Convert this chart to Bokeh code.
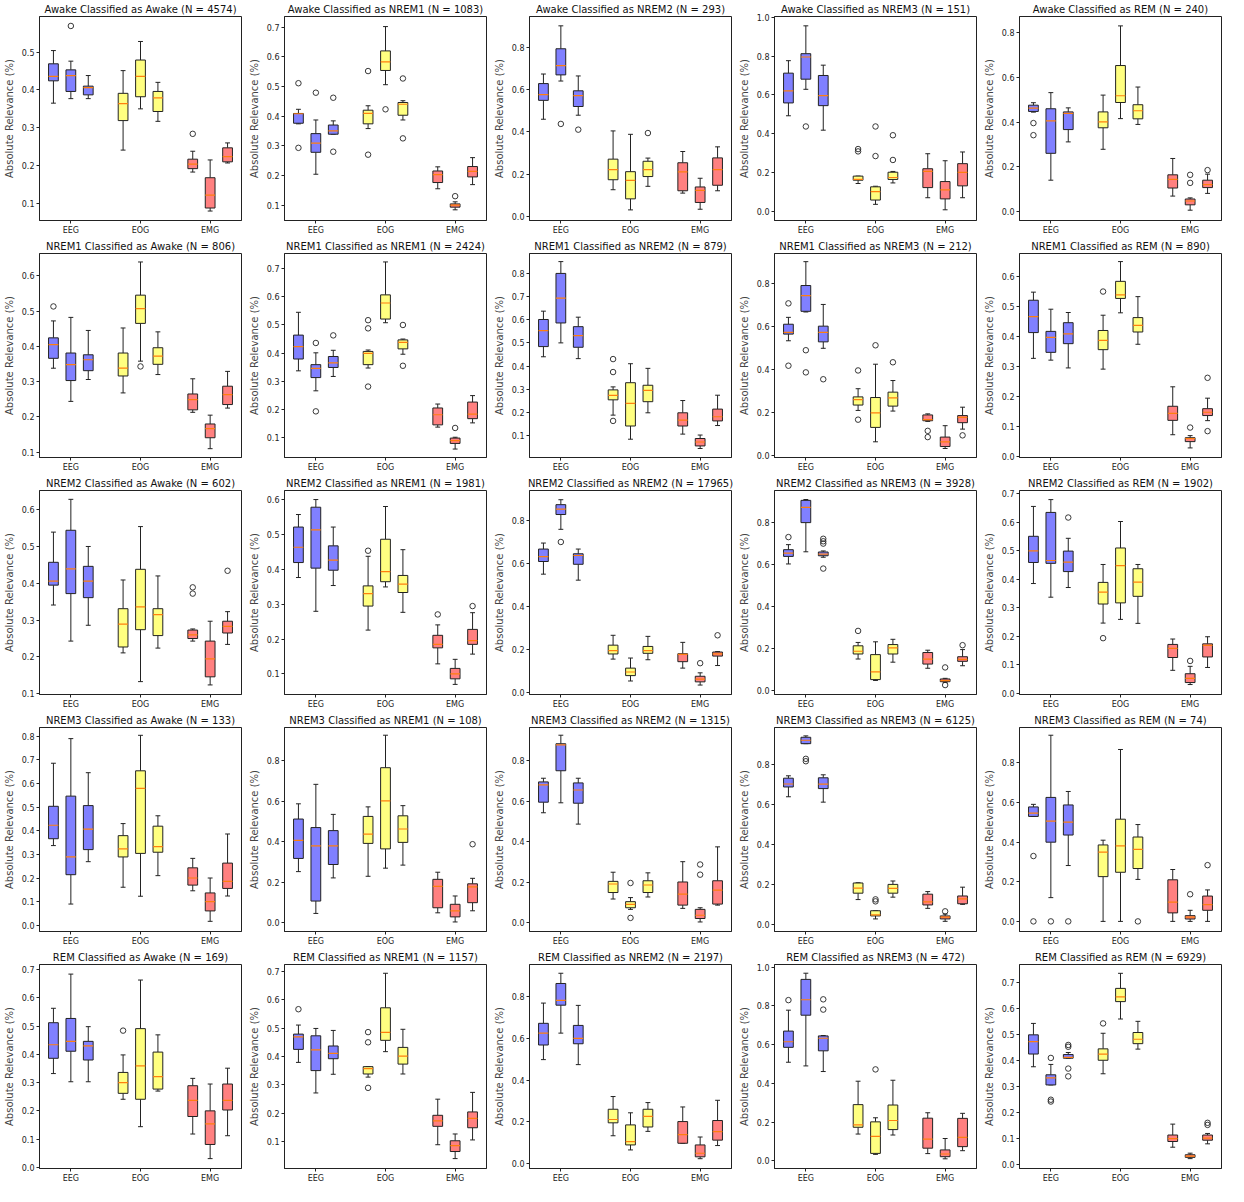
from bokeh.plotting import figure
from bokeh.layouts import gridplot
from bokeh.models import FixedTicker, NumeralTickFormatter, ColumnDataSource
from bokeh.embed import file_html
from bokeh.resources import INLINE

STAGES = ["Awake", "NREM1", "NREM2", "NREM3", "REM"]
CHANNELS = ["EEG", "EOG", "EMG"]
N_COUNTS = [
    [4574, 1083, 293, 151, 240],
    [806, 2424, 879, 212, 890],
    [602, 1981, 17965, 3928, 1902],
    [133, 108, 1315, 6125, 74],
    [169, 1157, 2197, 472, 6929],
]

# per panel (row-major, true stage x predicted stage), 9 boxes: EEG x3, EOG x3, EMG x3
LO = [
    [0.365, 0.377, 0.377, 0.241, 0.350, 0.317, 0.183, 0.080, 0.207],
    [0.374, 0.204, 0.339, 0.358, 0.506, 0.387, 0.155, 0.084, 0.169],
    [0.460, 0.640, 0.479, 0.128, 0.033, 0.144, 0.112, 0.036, 0.123],
    [0.493, 0.629, 0.419, 0.145, 0.038, 0.148, 0.072, 0.010, 0.072],
    [0.445, 0.141, 0.312, 0.279, 0.416, 0.390, 0.070, 0.007, 0.082],
    [0.338, 0.244, 0.306, 0.268, 0.358, 0.320, 0.213, 0.110, 0.225],
    [0.337, 0.266, 0.317, 0.347, 0.508, 0.396, 0.137, 0.059, 0.152],
    [0.440, 0.500, 0.432, 0.188, 0.084, 0.198, 0.106, 0.044, 0.143],
    [0.533, 0.667, 0.498, 0.209, 0.063, 0.206, 0.158, 0.032, 0.122],
    [0.328, 0.322, 0.296, 0.292, 0.480, 0.375, 0.073, 0.029, 0.120],
    [0.341, 0.243, 0.286, 0.211, 0.133, 0.224, 0.243, 0.124, 0.234],
    [0.377, 0.280, 0.354, 0.226, 0.350, 0.277, 0.129, 0.070, 0.157],
    [0.552, 0.761, 0.524, 0.156, 0.054, 0.153, 0.114, 0.035, 0.126],
    [0.603, 0.661, 0.635, 0.150, 0.048, 0.135, 0.106, 0.039, 0.118],
    [0.385, 0.337, 0.371, 0.246, 0.259, 0.245, 0.080, 0.030, 0.090],
    [0.337, 0.090, 0.269, 0.161, 0.123, 0.210, 0.146, 0.017, 0.124],
    [0.253, 0.047, 0.222, 0.230, 0.270, 0.285, 0.050, 0.005, 0.060],
    [0.543, 0.592, 0.487, 0.118, 0.067, 0.128, 0.072, 0.005, 0.088],
    [0.639, 0.905, 0.612, 0.124, 0.027, 0.136, 0.080, 0.015, 0.100],
    [0.530, 0.120, 0.282, 0.000, 0.000, 0.212, 0.000, 0.000, 0.000],
    [0.332, 0.303, 0.303, 0.241, 0.144, 0.270, 0.118, 0.031, 0.112],
    [0.379, 0.271, 0.337, 0.327, 0.417, 0.338, 0.088, 0.039, 0.105],
    [0.498, 0.625, 0.474, 0.133, 0.065, 0.154, 0.097, 0.023, 0.086],
    [0.509, 0.490, 0.461, 0.138, 0.033, 0.133, 0.037, 0.010, 0.052],
    [0.375, 0.305, 0.408, 0.348, 0.559, 0.443, 0.065, 0.021, 0.078],
]
Q1 = [
    [0.424, 0.396, 0.387, 0.319, 0.382, 0.343, 0.192, 0.088, 0.210],
    [0.376, 0.278, 0.339, 0.374, 0.554, 0.403, 0.176, 0.093, 0.195],
    [0.549, 0.669, 0.520, 0.175, 0.085, 0.190, 0.123, 0.068, 0.149],
    [0.559, 0.681, 0.545, 0.162, 0.060, 0.166, 0.124, 0.066, 0.133],
    [0.448, 0.261, 0.367, 0.375, 0.488, 0.415, 0.106, 0.031, 0.108],
    [0.366, 0.303, 0.331, 0.316, 0.465, 0.349, 0.220, 0.141, 0.235],
    [0.379, 0.313, 0.349, 0.359, 0.521, 0.415, 0.145, 0.079, 0.167],
    [0.484, 0.586, 0.481, 0.254, 0.141, 0.246, 0.141, 0.055, 0.163],
    [0.564, 0.670, 0.528, 0.234, 0.130, 0.229, 0.161, 0.041, 0.152],
    [0.414, 0.348, 0.377, 0.357, 0.528, 0.416, 0.121, 0.050, 0.137],
    [0.395, 0.372, 0.361, 0.227, 0.274, 0.258, 0.250, 0.146, 0.265],
    [0.420, 0.404, 0.398, 0.295, 0.365, 0.334, 0.175, 0.086, 0.185],
    [0.611, 0.830, 0.598, 0.180, 0.079, 0.183, 0.144, 0.050, 0.170],
    [0.639, 0.800, 0.642, 0.174, 0.052, 0.174, 0.126, 0.042, 0.139],
    [0.459, 0.456, 0.427, 0.313, 0.317, 0.340, 0.125, 0.037, 0.127],
    [0.366, 0.214, 0.320, 0.289, 0.304, 0.309, 0.170, 0.061, 0.156],
    [0.318, 0.108, 0.288, 0.392, 0.365, 0.397, 0.075, 0.030, 0.100],
    [0.595, 0.750, 0.590, 0.150, 0.075, 0.150, 0.088, 0.022, 0.093],
    [0.688, 0.905, 0.680, 0.156, 0.042, 0.156, 0.097, 0.027, 0.103],
    [0.530, 0.400, 0.436, 0.226, 0.248, 0.267, 0.043, 0.012, 0.056],
    [0.386, 0.411, 0.380, 0.262, 0.241, 0.277, 0.180, 0.081, 0.203],
    [0.425, 0.350, 0.392, 0.338, 0.457, 0.373, 0.153, 0.064, 0.148],
    [0.568, 0.759, 0.574, 0.195, 0.089, 0.175, 0.097, 0.032, 0.112],
    [0.586, 0.752, 0.568, 0.173, 0.038, 0.161, 0.065, 0.021, 0.073],
    [0.424, 0.305, 0.408, 0.400, 0.626, 0.464, 0.087, 0.026, 0.092],
]
MED = [
    [0.436, 0.438, 0.406, 0.364, 0.436, 0.379, 0.204, 0.122, 0.224],
    [0.408, 0.309, 0.350, 0.409, 0.583, 0.440, 0.203, 0.100, 0.214],
    [0.576, 0.713, 0.571, 0.223, 0.172, 0.223, 0.212, 0.125, 0.223],
    [0.621, 0.795, 0.597, 0.166, 0.103, 0.176, 0.207, 0.112, 0.202],
    [0.463, 0.406, 0.439, 0.401, 0.518, 0.451, 0.145, 0.048, 0.121],
    [0.405, 0.348, 0.362, 0.338, 0.507, 0.372, 0.249, 0.167, 0.263],
    [0.423, 0.346, 0.365, 0.399, 0.578, 0.438, 0.181, 0.089, 0.183],
    [0.553, 0.693, 0.531, 0.273, 0.239, 0.295, 0.166, 0.072, 0.181],
    [0.572, 0.743, 0.572, 0.259, 0.198, 0.267, 0.166, 0.063, 0.177],
    [0.467, 0.398, 0.410, 0.388, 0.540, 0.438, 0.144, 0.060, 0.148],
    [0.406, 0.439, 0.406, 0.289, 0.336, 0.315, 0.260, 0.195, 0.283],
    [0.464, 0.514, 0.427, 0.331, 0.394, 0.358, 0.185, 0.100, 0.196],
    [0.634, 0.855, 0.639, 0.196, 0.096, 0.196, 0.178, 0.063, 0.180],
    [0.655, 0.873, 0.650, 0.187, 0.089, 0.203, 0.150, 0.047, 0.148],
    [0.500, 0.466, 0.460, 0.355, 0.448, 0.390, 0.157, 0.052, 0.168],
    [0.423, 0.289, 0.407, 0.323, 0.579, 0.333, 0.200, 0.100, 0.186],
    [0.407, 0.380, 0.380, 0.438, 0.602, 0.463, 0.180, 0.060, 0.178],
    [0.680, 0.877, 0.655, 0.192, 0.092, 0.187, 0.142, 0.038, 0.162],
    [0.703, 0.922, 0.702, 0.181, 0.047, 0.180, 0.112, 0.036, 0.127],
    [0.547, 0.506, 0.501, 0.350, 0.381, 0.364, 0.097, 0.022, 0.085],
    [0.434, 0.446, 0.430, 0.300, 0.359, 0.321, 0.237, 0.154, 0.237],
    [0.469, 0.423, 0.411, 0.357, 0.485, 0.401, 0.172, 0.085, 0.181],
    [0.625, 0.782, 0.600, 0.211, 0.105, 0.226, 0.138, 0.049, 0.153],
    [0.615, 0.832, 0.633, 0.185, 0.126, 0.208, 0.112, 0.035, 0.121],
    [0.472, 0.332, 0.411, 0.424, 0.644, 0.481, 0.098, 0.031, 0.100],
]
Q3 = [
    [0.469, 0.453, 0.410, 0.391, 0.479, 0.396, 0.217, 0.168, 0.247],
    [0.409, 0.341, 0.370, 0.420, 0.620, 0.446, 0.215, 0.104, 0.230],
    [0.628, 0.792, 0.594, 0.272, 0.213, 0.262, 0.255, 0.141, 0.278],
    [0.712, 0.812, 0.700, 0.183, 0.128, 0.203, 0.221, 0.155, 0.247],
    [0.476, 0.460, 0.446, 0.446, 0.653, 0.478, 0.165, 0.057, 0.141],
    [0.424, 0.381, 0.376, 0.381, 0.545, 0.396, 0.265, 0.180, 0.287],
    [0.464, 0.359, 0.388, 0.406, 0.607, 0.447, 0.205, 0.098, 0.226],
    [0.601, 0.800, 0.570, 0.297, 0.328, 0.317, 0.198, 0.087, 0.214],
    [0.610, 0.790, 0.601, 0.272, 0.269, 0.294, 0.188, 0.085, 0.185],
    [0.522, 0.418, 0.447, 0.421, 0.585, 0.464, 0.168, 0.063, 0.160],
    [0.457, 0.544, 0.446, 0.331, 0.438, 0.331, 0.273, 0.243, 0.297],
    [0.522, 0.579, 0.468, 0.353, 0.487, 0.383, 0.211, 0.116, 0.228],
    [0.669, 0.876, 0.647, 0.221, 0.114, 0.215, 0.181, 0.076, 0.189],
    [0.671, 0.906, 0.660, 0.213, 0.171, 0.219, 0.181, 0.055, 0.161],
    [0.551, 0.635, 0.499, 0.389, 0.510, 0.437, 0.171, 0.068, 0.173],
    [0.503, 0.546, 0.506, 0.379, 0.653, 0.419, 0.243, 0.137, 0.263],
    [0.512, 0.470, 0.455, 0.525, 0.765, 0.528, 0.215, 0.092, 0.193],
    [0.695, 0.883, 0.690, 0.205, 0.105, 0.208, 0.202, 0.067, 0.208],
    [0.732, 0.937, 0.734, 0.207, 0.068, 0.200, 0.151, 0.042, 0.142],
    [0.578, 0.626, 0.588, 0.386, 0.516, 0.426, 0.210, 0.029, 0.128],
    [0.512, 0.527, 0.446, 0.336, 0.491, 0.408, 0.289, 0.200, 0.295],
    [0.479, 0.473, 0.437, 0.364, 0.572, 0.432, 0.192, 0.102, 0.204],
    [0.672, 0.863, 0.662, 0.260, 0.185, 0.260, 0.201, 0.089, 0.206],
    [0.670, 0.937, 0.645, 0.290, 0.201, 0.288, 0.220, 0.056, 0.219],
    [0.498, 0.344, 0.422, 0.444, 0.677, 0.507, 0.112, 0.036, 0.112],
]
HI = [
    [0.504, 0.476, 0.438, 0.451, 0.528, 0.420, 0.238, 0.215, 0.260],
    [0.423, 0.387, 0.384, 0.435, 0.702, 0.452, 0.229, 0.111, 0.260],
    [0.673, 0.900, 0.664, 0.405, 0.389, 0.277, 0.308, 0.182, 0.330],
    [0.776, 0.955, 0.753, 0.183, 0.131, 0.207, 0.298, 0.262, 0.307],
    [0.487, 0.532, 0.464, 0.521, 0.830, 0.557, 0.238, 0.062, 0.168],
    [0.472, 0.482, 0.445, 0.452, 0.639, 0.441, 0.308, 0.205, 0.329],
    [0.545, 0.401, 0.410, 0.411, 0.724, 0.450, 0.219, 0.101, 0.249],
    [0.637, 0.851, 0.611, 0.310, 0.410, 0.390, 0.251, 0.102, 0.274],
    [0.642, 0.901, 0.702, 0.310, 0.424, 0.348, 0.193, 0.138, 0.224],
    [0.549, 0.492, 0.481, 0.472, 0.651, 0.534, 0.233, 0.070, 0.195],
    [0.539, 0.628, 0.500, 0.409, 0.554, 0.420, 0.276, 0.297, 0.323],
    [0.558, 0.601, 0.522, 0.438, 0.581, 0.457, 0.241, 0.142, 0.276],
    [0.697, 0.899, 0.669, 0.267, 0.161, 0.262, 0.234, 0.092, 0.191],
    [0.695, 0.910, 0.665, 0.229, 0.232, 0.244, 0.192, 0.058, 0.195],
    [0.656, 0.680, 0.544, 0.452, 0.603, 0.452, 0.190, 0.094, 0.198],
    [0.685, 0.789, 0.645, 0.430, 0.803, 0.463, 0.283, 0.200, 0.386],
    [0.587, 0.683, 0.535, 0.572, 0.925, 0.578, 0.250, 0.133, 0.220],
    [0.713, 0.925, 0.713, 0.250, 0.125, 0.247, 0.302, 0.075, 0.375],
    [0.744, 0.944, 0.749, 0.208, 0.068, 0.217, 0.164, 0.051, 0.186],
    [0.591, 0.940, 0.656, 0.410, 0.868, 0.489, 0.262, 0.056, 0.159],
    [0.563, 0.684, 0.498, 0.398, 0.663, 0.469, 0.315, 0.295, 0.351],
    [0.511, 0.499, 0.492, 0.364, 0.694, 0.496, 0.249, 0.126, 0.273],
    [0.769, 0.912, 0.758, 0.321, 0.243, 0.292, 0.271, 0.127, 0.303],
    [0.778, 0.969, 0.647, 0.411, 0.222, 0.416, 0.248, 0.115, 0.245],
    [0.542, 0.384, 0.430, 0.504, 0.735, 0.550, 0.154, 0.042, 0.118],
]
# outliers: (box index 0-8, value)
OUTLIERS = [
    [(1, 0.569), (6, 0.284)],
    [(0, 0.511), (0, 0.293), (1, 0.479), (2, 0.462), (2, 0.280), (3, 0.552), (3, 0.270),
     (4, 0.423), (5, 0.527), (5, 0.325), (7, 0.130)],
    [(1, 0.438), (2, 0.411), (5, 0.395)],
    [(1, 0.438), (3, 0.322), (3, 0.310), (4, 0.438), (4, 0.286), (5, 0.393), (5, 0.266)],
    [(0, 0.396), (0, 0.342), (7, 0.165), (7, 0.129), (8, 0.186)],
    [(0, 0.513), (4, 0.343)],
    [(1, 0.436), (1, 0.193), (2, 0.463), (3, 0.517), (3, 0.488), (3, 0.281), (5, 0.500),
     (5, 0.355), (7, 0.134)],
    [(3, 0.430), (3, 0.374), (3, 0.163)],
    [(0, 0.707), (0, 0.417), (1, 0.489), (1, 0.386), (2, 0.354), (3, 0.395), (3, 0.166),
     (4, 0.512), (5, 0.433), (6, 0.114), (6, 0.085), (8, 0.093)],
    [(3, 0.551), (7, 0.097), (8, 0.263), (8, 0.085)],
    [(6, 0.389), (6, 0.372), (8, 0.434)],
    [(3, 0.454), (6, 0.271), (8, 0.295)],
    [(1, 0.702), (7, 0.137), (8, 0.267)],
    [(0, 0.731), (2, 0.723), (2, 0.711), (2, 0.700), (2, 0.581), (3, 0.284), (7, 0.110),
     (7, 0.026), (8, 0.216)],
    [(2, 0.617), (3, 0.193), (7, 0.113)],
    [],
    [(8, 0.388)],
    [(4, 0.197), (4, 0.025), (7, 0.288), (7, 0.238)],
    [(1, 0.829), (1, 0.817), (4, 0.125), (4, 0.115), (7, 0.065)],
    [(0, 0.330), (0, 0.0), (1, 0.0), (2, 0.0), (5, 0.0), (7, 0.137), (8, 0.284)],
    [(3, 0.484)],
    [(0, 0.567), (3, 0.486), (3, 0.450), (3, 0.289)],
    [],
    [(0, 0.830), (2, 0.834), (2, 0.781), (4, 0.472)],
    [(1, 0.409), (1, 0.248), (1, 0.241), (2, 0.459), (2, 0.452), (2, 0.368), (2, 0.338),
     (3, 0.542), (8, 0.159), (8, 0.151)],
]

# layout: y-axis limits and tick spacing per panel
Y_LIMITS = [
    (0.055, 0.594), (0.048, 0.736), (-0.017, 0.944), (-0.045, 1.003), (-0.039, 0.872),
    (0.085, 0.663), (0.029, 0.754), (0.005, 0.886), (-0.010, 0.939), (-0.003, 0.678),
    (0.098, 0.652), (0.041, 0.627), (-0.009, 0.942), (-0.019, 0.953), (-0.005, 0.712),
    (-0.026, 0.836), (-0.042, 0.963), (-0.042, 0.963), (-0.036, 0.986), (-0.051, 0.979),
    (-0.004, 0.718), (0.004, 0.725), (-0.024, 0.954), (-0.040, 1.014), (-0.017, 0.769),
]
Y_STEP = [
    0.1, 0.1, 0.2, 0.2, 0.2,
    0.1, 0.1, 0.1, 0.2, 0.1,
    0.1, 0.1, 0.2, 0.2, 0.1,
    0.1, 0.2, 0.2, 0.2, 0.2,
    0.1, 0.1, 0.2, 0.2, 0.1,
]

FILLS = ["#8080ff", "#ffff80", "#ff8080"]
OFFSETS = [-0.25, 0.0, 0.25]
BOX_W = 0.14
FONT = "DejaVu Sans"


def panel(r, c):
    i = r * 5 + c
    y0, y1 = Y_LIMITS[i]
    p = figure(width=245, height=237, x_range=(0.55, 3.45), y_range=(y0, y1),
               output_backend="svg", toolbar_location=None,
               title=f"{STAGES[r]} Classified as {STAGES[c]} (N = {N_COUNTS[r][c]})")
    p.title.align = "center"
    p.title.text_font = FONT
    p.title.text_font_style = "normal"
    p.title.text_font_size = "10px"
    p.title.text_color = "#111111"
    p.title.standoff = 3
    p.min_border_left = 4
    p.min_border_right = 4
    p.min_border_top = 2
    p.min_border_bottom = 2
    p.xgrid.visible = False
    p.ygrid.visible = False
    p.outline_line_color = "#222222"
    p.outline_line_width = 1
    p.background_fill_color = "white"
    p.border_fill_color = "white"

    xs, fills = [], []
    for g in range(3):
        for o in OFFSETS:
            xs.append(g + 1 + o)
            fills.append(FILLS[g])
    lo, q1, med, q3, hi = LO[i], Q1[i], MED[i], Q3[i], HI[i]
    src = ColumnDataSource(dict(
        x=xs, fill=fills, lo=lo, q1=q1, med=med, q3=q3, hi=hi,
        xl=[x - BOX_W / 2 for x in xs], xr=[x + BOX_W / 2 for x in xs],
        cl=[x - BOX_W / 4 for x in xs], cr=[x + BOX_W / 4 for x in xs],
    ))
    # whiskers
    p.segment(x0="x", y0="q3", x1="x", y1="hi", source=src, line_color="#222222", line_width=1)
    p.segment(x0="x", y0="q1", x1="x", y1="lo", source=src, line_color="#222222", line_width=1)
    # caps
    p.segment(x0="cl", y0="hi", x1="cr", y1="hi", source=src, line_color="#222222", line_width=1)
    p.segment(x0="cl", y0="lo", x1="cr", y1="lo", source=src, line_color="#222222", line_width=1)
    # boxes
    p.vbar(x="x", width=BOX_W, top="q3", bottom="q1", source=src, fill_color="fill",
           line_color="#222222", line_width=1)
    # medians
    p.segment(x0="xl", y0="med", x1="xr", y1="med", source=src, line_color="#ff7f0e", line_width=1.2)
    # outliers
    ox = [xs[b] for b, v in OUTLIERS[i]]
    oy = [v for b, v in OUTLIERS[i]]
    if ox:
        p.scatter(x=ox, y=oy, marker="circle", size=5.5, fill_color=None,
                  line_color="#222222", line_width=0.9)

    step = Y_STEP[i]
    ticks = []
    k = 0
    while k * step <= y1 + 1e-9:
        v = round(k * step, 2)
        if v >= y0 - 1e-9:
            ticks.append(v)
        k += 1
    p.yaxis.ticker = FixedTicker(ticks=ticks)
    p.yaxis.formatter = NumeralTickFormatter(format="0.0")
    p.yaxis.axis_label = "Absolute Relevance (%)"
    p.yaxis.axis_label_text_font = FONT
    p.yaxis.axis_label_text_font_style = "normal"
    p.yaxis.axis_label_text_font_size = "10px"
    p.yaxis.axis_label_standoff = 4
    p.xaxis.ticker = FixedTicker(ticks=[1, 2, 3])
    p.xaxis.major_label_overrides = {1: CHANNELS[0], 2: CHANNELS[1], 3: CHANNELS[2]}
    for ax in (p.xaxis, p.yaxis):
        ax.major_label_text_font = FONT
        ax.major_label_text_font_size = "8px"
        ax.major_label_text_color = "#222222"
        ax.minor_tick_line_color = None
        ax.major_tick_in = 0
        ax.major_tick_out = 3
        ax.major_tick_line_color = "#222222"
        ax.axis_line_color = "#222222"
        ax.major_label_standoff = 2
    return p


rows = [[panel(r, c) for c in range(5)] for r in range(5)]
grid = gridplot(rows, toolbar_location=None)

with open("out.html", "w") as f:
    f.write(file_html(grid, INLINE))
